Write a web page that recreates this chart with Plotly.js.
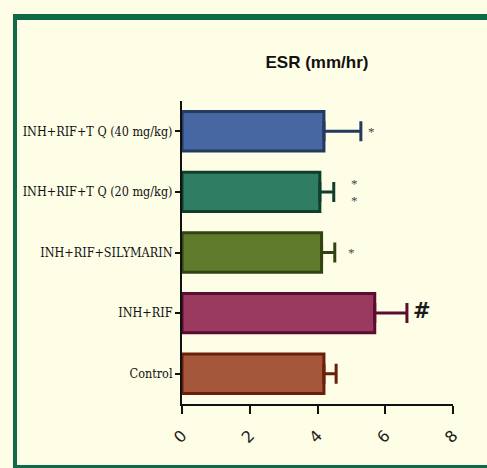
<!DOCTYPE html>
<html>
<head>
<meta charset="utf-8">
<script src="https://cdn.plot.ly/plotly-3.0.1.min.js"></script>
<style>
  html, body { margin: 0; padding: 0; background: #fefee6; }
  #chart { width: 487px; height: 468px; }
</style>
</head>
<body>
<div id="chart"></div>
<script>
// Groups, bottom to top
const groups = ["Control", "INH+RIF", "INH+RIF+SILYMARIN", "INH+RIF+T Q (20 mg/kg)", "INH+RIF+T Q (40 mg/kg)"];
const tickLabels = ["Control", "INH+RIF", "INH+RIF+SILYMARIN", "INH+RIF+T Q (20 mg/kg)", "INH+RIF+T Q (40 mg/kg)"];
// ESR mean and SEM (mm/hr)
const esrMean = [4.19, 5.69, 4.12, 4.07, 4.19];
const esrSem  = [0.36, 0.95, 0.39, 0.41, 1.09];
// Significance marks
const sigMarks = ["", "#", "*", "*<br>*", "*"];

const fillColors = ["#a5573c", "#9b3a5f", "#5f7a2b", "#2f7e64", "#4767a2"];
const edgeColors = ["#6b1f08", "#5b0c2f", "#2f4412", "#0f3e2c", "#243a5e"];

const W = 487, H = 468;
const M = { l: 182, r: 34, t: 101, b: 64 };
const PW = W - M.l - M.r, PH = H - M.t - M.b;
const px = x => (x - M.l) / PW;
const py = y => 1 - (y - M.t) / PH;

const traces = groups.map((g, i) => ({
  type: "bar",
  orientation: "h",
  y: [g],
  x: [esrMean[i]],
  width: 0.65,
  marker: { color: fillColors[i], line: { color: edgeColors[i], width: 3 } },
  error_x: {
    type: "data", symmetric: false,
    array: [esrSem[i]], arrayminus: [0],
    color: edgeColors[i], thickness: 3, width: 10
  },
  hoverinfo: "skip",
  showlegend: false
}));

const markShift = [0, 15, 17, 21, 11];
const annotations = groups.map((g, i) => ({
  x: esrMean[i] + esrSem[i], y: g, xref: "x", yref: "y",
  text: sigMarks[i], showarrow: false, xanchor: "center",
  xshift: markShift[i], yshift: i === 1 ? 2 : 0,
  font: i === 1
    ? { family: "DejaVu Sans, Liberation Sans", size: 21, color: "#1a1a1a", weight: "bold" }
    : { family: "Liberation Serif, Times New Roman", size: 13, color: "#444" }
})).filter(a => a.text);

const frameColor = "#0e6b47";
const shapes = [
  { type: "line", xref: "paper", yref: "paper", x0: px(13), x1: px(495), y0: py(17), y1: py(17), line: { color: frameColor, width: 6 } },
  { type: "line", xref: "paper", yref: "paper", x0: px(15), x1: px(15), y0: py(14), y1: py(470), line: { color: frameColor, width: 4 } },
  { type: "line", xref: "paper", yref: "paper", x0: px(13), x1: px(495), y0: py(467), y1: py(467), line: { color: frameColor, width: 4 } }
];

const layout = {
  width: W, height: H,
  margin: M,
  paper_bgcolor: "#fefee6",
  plot_bgcolor: "#fefee6",
  barmode: "overlay",
  title: {
    text: "ESR (mm/hr)",
    x: px(317), xanchor: "center", xref: "paper",
    y: 1 - 62 / H, yanchor: "middle",
    font: { family: "Liberation Sans Narrow, Liberation Sans, Arial", size: 17, color: "#111", weight: "bold" }
  },
  xaxis: {
    range: [0, 8], dtick: 2, tick0: 0,
    showline: true, linecolor: "#111", linewidth: 2,
    ticks: "outside", ticklen: 8, tickwidth: 2, tickcolor: "#111",
    showgrid: false, zeroline: false,
    tickangle: -45,
    ticklabelstandoff: 6,
    tickfont: { family: "DejaVu Sans, Liberation Sans", size: 16, color: "#222" },
    fixedrange: true
  },
  yaxis: {
    type: "category",
    categoryorder: "array", categoryarray: groups,
    tickvals: groups, ticktext: tickLabels,
    range: [-0.5, 4.5],
    showline: true, linecolor: "#111", linewidth: 2,
    ticks: "outside", ticklen: 5, tickwidth: 2, tickcolor: "#111",
    showgrid: false, zeroline: false,
    tickfont: { family: "DejaVu Serif Condensed, Liberation Serif, Times New Roman", size: 12.5, color: "#111" },
    fixedrange: true
  },
  annotations: annotations,
  shapes: shapes
};

Plotly.newPlot("chart", traces, layout, { displayModeBar: false, staticPlot: true });
</script>
</body>
</html>
